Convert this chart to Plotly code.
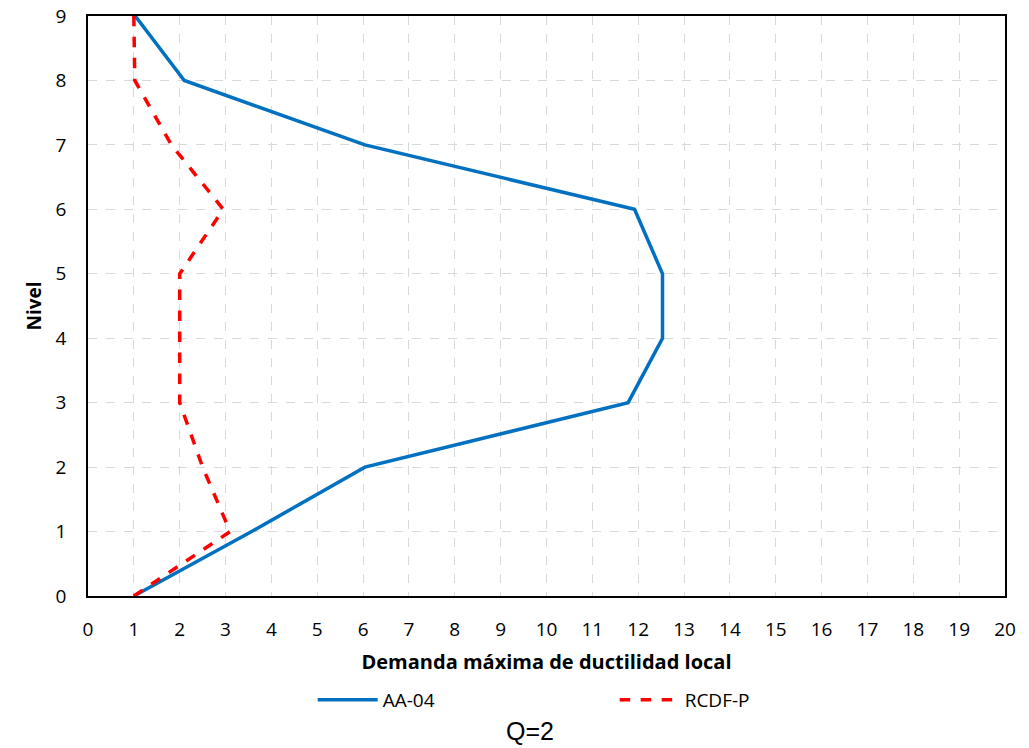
import plotly.graph_objects as go

niveles = [0, 1, 2, 3, 4, 5, 6, 7, 8, 9]
aa04 = [1.0, 3.57, 6.04, 11.78, 12.53, 12.53, 11.92, 6.04, 2.10, 1.03]
rcdfp = [1.0, 3.1, 2.5, 2.0, 2.0, 2.0, 2.95, 1.82, 1.02, 1.0]

font_main = "Open Sans, Lato, sans-serif"

fig = go.Figure()
fig.add_trace(go.Scatter(x=aa04, y=niveles, mode="lines", name="AA-04",
                         line=dict(color="#0070C0", width=3.5)))
fig.add_trace(go.Scatter(x=rcdfp, y=niveles, mode="lines", name="RCDF-P",
                         line=dict(color="#FF0000", width=3.5, dash="dash")))

fig.update_layout(
    width=1029, height=748,
    margin=dict(l=88, r=24, t=16, b=152, autoexpand=False),
    paper_bgcolor="white", plot_bgcolor="white",
    font=dict(family=font_main, size=19, color="black"),
    showlegend=True,
    legend=dict(orientation="h", x=0.245, xanchor="left", y=-0.179, yanchor="middle",
                itemwidth=60, entrywidth=227, entrywidthmode="pixels",
                font=dict(family=font_main, size=19)),
    annotations=[dict(text="Q=2", x=0.482, y=-0.232, xref="paper", yref="paper",
                      showarrow=False, xanchor="center", yanchor="middle",
                      font=dict(family="Liberation Sans, Arial, sans-serif", size=25))],
)
fig.update_xaxes(range=[0, 20], dtick=1, tick0=0,
                 showgrid=True, gridcolor="#D9D9D9", griddash="dash", gridwidth=1,
                 showline=True, linecolor="black", linewidth=1.5, mirror=True,
                 zeroline=False, ticks="", ticklabelstandoff=15,
                 title=dict(text="<b>Demanda máxima de ductilidad local</b>",
                            font=dict(family=font_main, size=20), standoff=14))
fig.update_yaxes(range=[0, 9], dtick=1, tick0=0,
                 showgrid=True, gridcolor="#D9D9D9", griddash="dash", gridwidth=1,
                 showline=True, linecolor="black", linewidth=1.5, mirror=True,
                 zeroline=False, ticks="", ticklabelstandoff=16,
                 title=dict(text="<b>Nivel</b>",
                            font=dict(family=font_main, size=19), standoff=9))

fig.write_html("out.html", config={"displayModeBar": False},
               post_script="document.body.style.margin='0';document.body.style.overflow='hidden';")
